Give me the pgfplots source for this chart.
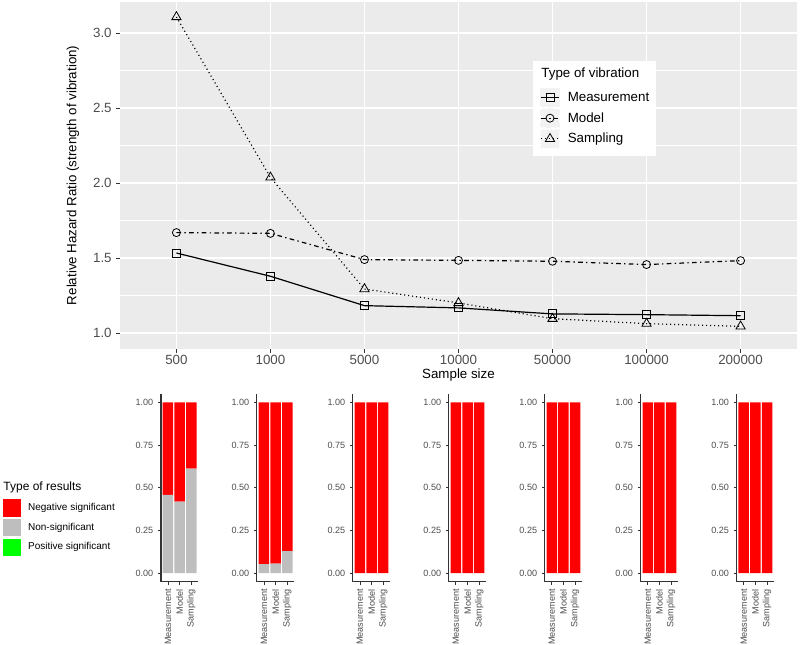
\documentclass[border=0pt]{standalone}
\usepackage{fontspec}
\setmainfont{Liberation Sans}
\usepackage{pgfplots}
\pgfplotsset{compat=1.18}
\definecolor{ggbg}{HTML}{EBEBEB}
\definecolor{gg30}{HTML}{4D4D4D}
\definecolor{gg20}{HTML}{333333}
\definecolor{keybg}{HTML}{F2F2F2}
\definecolor{nsgrey}{HTML}{BEBEBE}
\definecolor{possig}{HTML}{00FF00}
\pgfplotsset{
  smallbar/.style={
    width=28pt, height=140.8pt, scale only axis,
    xmin=0.4, xmax=3.6, ymin=-0.05, ymax=1.05,
    axis x line*=bottom, axis y line*=left,
    axis line style={-, gg20, line width=0.8pt},
    xtick={1,2,3}, xticklabels={Measurement,Model,Sampling},
    ytick={0,0.25,0.5,0.75,1},
    yticklabel style={/pgf/number format/fixed, /pgf/number format/fixed zerofill, /pgf/number format/precision=2},
    xticklabel style={rotate=90, anchor=east},
    ticklabel style={font=\fontsize{6.8}{8}\selectfont, text=gg30},
    /pgf/number format/assume math mode=true,
    tick align=outside, major tick length=2.25pt, tick style={gg20, line width=0.6pt},
    ybar stacked, bar width=0.9,
  }
}
\begin{document}
\begin{tikzpicture}
\useasboundingbox (0pt,0pt) rectangle (600pt,483.75pt);

\begin{axis}[
  at={(90pt,222pt)}, anchor=south west,
  width=507.75pt, height=260.5pt, scale only axis,
  xmin=-0.6, xmax=6.6, ymin=0.893, ymax=3.209,
  axis background/.style={fill=ggbg},
  axis line style={draw=none},
  xtick={0,1,2,3,4,5,6},
  xticklabels={500,1000,5000,10000,50000,100000,200000},
  ytick={1,1.5,2,2.5,3},
  minor ytick={1.25,1.75,2.25,2.75},
  yticklabel style={/pgf/number format/fixed, /pgf/number format/fixed zerofill, /pgf/number format/precision=1},
  xticklabel style={yshift=2pt},
  /pgf/number format/assume math mode=true,
  xmajorgrids, ymajorgrids, yminorgrids,
  major grid style={white, line width=1.07pt},
  minor grid style={white, line width=0.53pt},
  tick pos=left, tick align=outside,
  major tick length=2.75pt, minor tick length=0pt,
  tick style={gg20, line width=0.5pt},
  ticklabel style={font=\fontsize{10}{12}\selectfont, text=gg30},
  label style={font=\fontsize{10}{12}\selectfont},
  xlabel={Sample size},
  ylabel={Relative Hazard Ratio (strength of vibration)},
  xlabel style={at={(axis description cs:0.5,-0.074)}, anchor=center},
  ylabel style={at={(axis description cs:-0.0697,0.5)}, anchor=center},
  legend image code/.code={
    \fill[keybg] (0pt,-6.875pt) rectangle (13.75pt,6.875pt);
    \draw[mark repeat=2, mark phase=2, #1] plot coordinates {(0pt,0pt) (6.875pt,0pt) (13.75pt,0pt)};
  },
  legend style={at={(axis description cs:0.61,0.8293)}, anchor=north west,
    draw=none, fill=white, inner sep=5.25pt, row sep=0.85pt, column sep=6pt,
    font=\fontsize{10}{12}\selectfont, nodes={inner sep=0pt}},
  legend cell align=left,
]
\addlegendimage{empty legend}
\addlegendentry[text depth=6.5pt]{\hspace*{-19.75pt}\rule{0pt}{7.3pt}Type of vibration}
\addplot[black, line width=0.9pt, mark=square, mark size=3pt,
  mark options={solid, line width=0.6pt, fill=none}]
  coordinates {(0,1.533) (1,1.378) (2,1.182) (3,1.167) (4,1.127) (5,1.122) (6,1.115)};
\addlegendentry{Measurement}
\addplot[black, line width=0.9pt, dash pattern=on 3.5pt off 2.5pt on 1pt off 2.5pt,
  mark=o, mark size=3pt, mark options={solid, line width=0.6pt, fill=none}]
  coordinates {(0,1.669) (1,1.664) (2,1.489) (3,1.484) (4,1.478) (5,1.456) (6,1.482)};
\addlegendentry{Model}
\addplot[black, line width=0.9pt, dash pattern=on 0.8pt off 2.2pt,
  mark=triangle, mark size=4pt, mark options={solid, line width=0.6pt, fill=none}]
  coordinates {(0,3.107) (1,2.037) (2,1.293) (3,1.200) (4,1.095) (5,1.062) (6,1.044)};
\addlegendentry{Sampling}
\end{axis}

% small bar charts
\begin{axis}[smallbar, at={(120.75pt,47.5pt)}, anchor=south west,
  legend image code/.code={\fill[#1] (0pt,-6.5pt) rectangle (13pt,6.5pt);},
  legend style={at={(axis description cs:-4.228,0.5328)}, anchor=north west,
    draw=none, fill=none, inner sep=0pt, row sep=1.7pt, column sep=5.5pt,
    font=\fontsize{7.5}{9}\selectfont, nodes={inner sep=0pt}},
  legend cell align=left,
]
\addplot[fill=nsgrey, draw=none, forget plot] coordinates {(1,0.458) (2,0.419) (3,0.613)};
\addplot[fill=red, draw=none, forget plot] coordinates {(1,0.542) (2,0.581) (3,0.387)};
\addlegendimage{empty legend}
\addlegendentry[text depth=4.85pt]{\hspace*{-18.5pt}\rule{0pt}{6.6pt}{\fontsize{9}{11}\selectfont Type of results}}
\addlegendimage{fill=red, draw=none}
\addlegendentry{Negative significant}
\addlegendimage{fill=nsgrey, draw=none}
\addlegendentry{Non-significant}
\addlegendimage{fill=possig, draw=none}
\addlegendentry{Positive significant}
\end{axis}

\begin{axis}[smallbar, at={(192.71pt,47.5pt)}, anchor=south west]
\addplot[fill=nsgrey, draw=none] coordinates {(1,0.053) (2,0.055) (3,0.129)};
\addplot[fill=red, draw=none] coordinates {(1,0.947) (2,0.945) (3,0.871)};
\end{axis}

\begin{axis}[smallbar, at={(264.68pt,47.5pt)}, anchor=south west]
\addplot[fill=nsgrey, draw=none] coordinates {(1,0) (2,0) (3,0)};
\addplot[fill=red, draw=none] coordinates {(1,1) (2,1) (3,1)};
\end{axis}

\begin{axis}[smallbar, at={(336.64pt,47.5pt)}, anchor=south west]
\addplot[fill=nsgrey, draw=none] coordinates {(1,0) (2,0) (3,0)};
\addplot[fill=red, draw=none] coordinates {(1,1) (2,1) (3,1)};
\end{axis}

\begin{axis}[smallbar, at={(408.60pt,47.5pt)}, anchor=south west]
\addplot[fill=nsgrey, draw=none] coordinates {(1,0) (2,0) (3,0)};
\addplot[fill=red, draw=none] coordinates {(1,1) (2,1) (3,1)};
\end{axis}

\begin{axis}[smallbar, at={(480.56pt,47.5pt)}, anchor=south west]
\addplot[fill=nsgrey, draw=none] coordinates {(1,0) (2,0) (3,0)};
\addplot[fill=red, draw=none] coordinates {(1,1) (2,1) (3,1)};
\end{axis}

\begin{axis}[smallbar, at={(552.53pt,47.5pt)}, anchor=south west]
\addplot[fill=nsgrey, draw=none] coordinates {(1,0) (2,0) (3,0)};
\addplot[fill=red, draw=none] coordinates {(1,1) (2,1) (3,1)};
\end{axis}
\end{tikzpicture}
\end{document}
